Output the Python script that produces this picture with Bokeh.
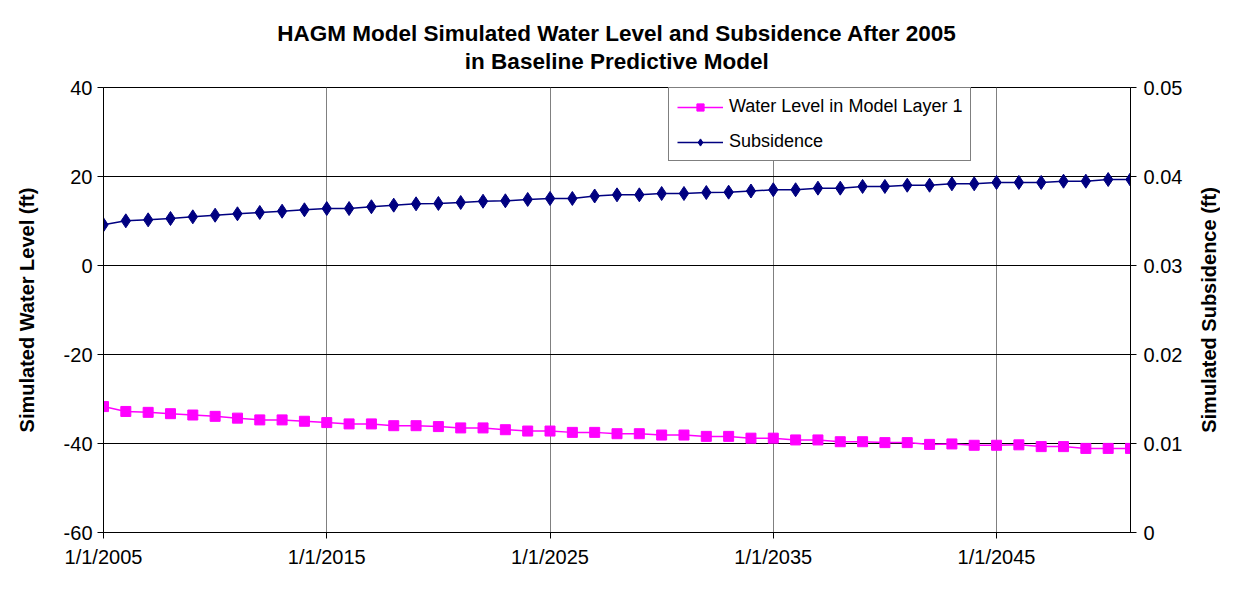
from bokeh.plotting import figure
from bokeh.layouts import row
from bokeh.models import (Range1d, LinearAxis, FixedTicker, Title, Legend, LegendItem)
from bokeh.embed import file_html
from bokeh.resources import INLINE

years = list(range(2005, 2052))
water_level = [-31.7, -32.8, -33.0, -33.3, -33.6, -33.9, -34.3, -34.7, -34.7, -35.0,
               -35.3, -35.6, -35.6, -36.0, -36.0, -36.2, -36.5, -36.5, -36.9, -37.2,
               -37.2, -37.5, -37.5, -37.8, -37.8, -38.1, -38.1, -38.4, -38.4, -38.8,
               -38.8, -39.2, -39.2, -39.6, -39.6, -39.8, -39.8, -40.2, -40.1, -40.4,
               -40.4, -40.3, -40.7, -40.7, -41.1, -41.1, -41.1]
subsidence = [0.03457, 0.03502, 0.03513, 0.03528, 0.03547, 0.03565, 0.03581, 0.03596,
              0.03610, 0.03626, 0.03640, 0.03640, 0.03660, 0.03678, 0.03693, 0.03697,
              0.03708, 0.03722, 0.03727, 0.03742, 0.03753, 0.03753, 0.03781, 0.03794,
              0.03794, 0.03809, 0.03809, 0.03820, 0.03824, 0.03837, 0.03851, 0.03851,
              0.03869, 0.03869, 0.03888, 0.03888, 0.03902, 0.03902, 0.03918, 0.03918,
              0.03933, 0.03933, 0.03933, 0.03947, 0.03947, 0.03966, 0.03966]
x_ticks = [2005, 2015, 2025, 2035, 2045]
x_tick_labels = ["1/1/2005", "1/1/2015", "1/1/2025", "1/1/2035", "1/1/2045"]
left_ticks = [-60, -40, -20, 0, 20, 40]
left_tick_labels = ["-60", "-40", "-20", "0", "20", "40"]
right_ticks = [0, 0.01, 0.02, 0.03, 0.04, 0.05]
right_tick_labels = ["0", "0.01", "0.02", "0.03", "0.04", "0.05"]
title_lines = ["HAGM Model Simulated Water Level and Subsidence After 2005",
               "in Baseline Predictive Model"]
left_label = "Simulated Water Level (ft)"
right_label = "Simulated Subsidence (ft)"

FONT = "Liberation Sans"

p = figure(frame_width=1027, frame_height=445, output_backend="svg", toolbar_location=None,
           x_range=Range1d(2005, 2051), y_range=Range1d(-60, 40),
           min_border_left=103, min_border_right=59, min_border_top=87, min_border_bottom=42,
           background_fill_color="white", border_fill_color="white")
p.outline_line_color = "black"
p.outline_line_width = 1

p.extra_y_ranges = {"sub": Range1d(0, 0.05)}

# single two-line title; second line indented with no-break spaces to centre it
title_text = title_lines[0] + "\n" + "\u00a0" * 30 + title_lines[1]
t = Title(text=title_text, align="center", text_font=FONT,
          text_font_size="22.5px", text_font_style="bold", text_color="black",
          text_line_height=1.1, standoff=28, offset=5)
p.add_layout(t, "above")

def style_axis(ax):
    ax.axis_line_color = "black"
    ax.major_tick_line_color = "black"
    ax.minor_tick_line_color = None
    ax.major_tick_in = 0
    ax.major_tick_out = 6
    ax.major_label_standoff = 5
    ax.major_label_text_font = FONT
    ax.major_label_text_font_size = "20px"
    ax.major_label_text_color = "black"
    ax.axis_label_text_font = FONT
    ax.axis_label_text_font_size = "20px"
    ax.axis_label_text_font_style = "bold"
    ax.axis_label_text_color = "black"

xa = p.xaxis[0]
style_axis(xa)
xa.ticker = FixedTicker(ticks=x_ticks)
xa.major_label_overrides = {t: l for t, l in zip(x_ticks, x_tick_labels)}
xa.major_label_standoff = 7

ya = p.yaxis[0]
style_axis(ya)
ya.ticker = FixedTicker(ticks=left_ticks)
ya.major_label_overrides = {t: l for t, l in zip(left_ticks, left_tick_labels)}
ya.axis_label = left_label
ya.axis_label_standoff = 23

ra = LinearAxis(y_range_name="sub")
style_axis(ra)
ra.ticker = FixedTicker(ticks=right_ticks)
ra.major_label_overrides = {t: l for t, l in zip(right_ticks, right_tick_labels)}
ra.major_label_standoff = 7
p.add_layout(ra, "right")

p.xgrid.ticker = FixedTicker(ticks=x_ticks)
p.xgrid.grid_line_color = "#808080"
p.xgrid.grid_line_width = 1
p.ygrid.ticker = FixedTicker(ticks=left_ticks)
p.ygrid.grid_line_color = "#000000"
p.ygrid.grid_line_width = 1

wl_line = p.line(years, water_level, line_color="#FF00FF", line_width=1.5)
wl_pts = p.scatter(years, water_level, marker="square", size=10, fill_color="#FF00FF",
                   line_color="#FF00FF")
sb_line = p.line(years, subsidence, line_color="#000080", line_width=1.5, y_range_name="sub")
sb_pts = p.scatter(years, subsidence, marker="diamond", size=14, fill_color="#000080",
                   line_color="#000080", y_range_name="sub")

legend = Legend(items=[
    LegendItem(label="Water Level in Model Layer 1", renderers=[wl_line, wl_pts]),
    LegendItem(label="Subsidence", renderers=[sb_line, sb_pts]),
], location=(565, 371))
legend.border_line_color = "black"
legend.border_line_width = 1
legend.background_fill_color = "white"
legend.background_fill_alpha = 1
legend.label_text_font = FONT
legend.label_text_font_size = "18px"
legend.label_text_color = "black"
legend.glyph_width = 46
legend.glyph_height = 18
legend.label_height = 18
legend.label_standoff = 6
legend.spacing = 14
legend.padding = 8
legend.margin = 0
p.add_layout(legend, "center")

# narrow companion figure carrying the right-hand axis title (reads bottom-to-top)
p2 = figure(frame_width=1, frame_height=445, output_backend="svg", toolbar_location=None,
            x_range=Range1d(0, 1), y_range=Range1d(0, 1),
            min_border_left=30, min_border_right=0, min_border_top=87, min_border_bottom=42,
            background_fill_color="white", border_fill_color="white")
p2.outline_line_color = None
p2.axis.visible = False
p2.grid.visible = False
rt = Title(text=right_label, align="center", text_font=FONT, text_font_size="20px",
           text_font_style="bold", text_color="black", standoff=0)
p2.add_layout(rt, "left")

layout = row(p, p2, spacing=0)
open("out.html", "w").write(file_html(layout, INLINE))
